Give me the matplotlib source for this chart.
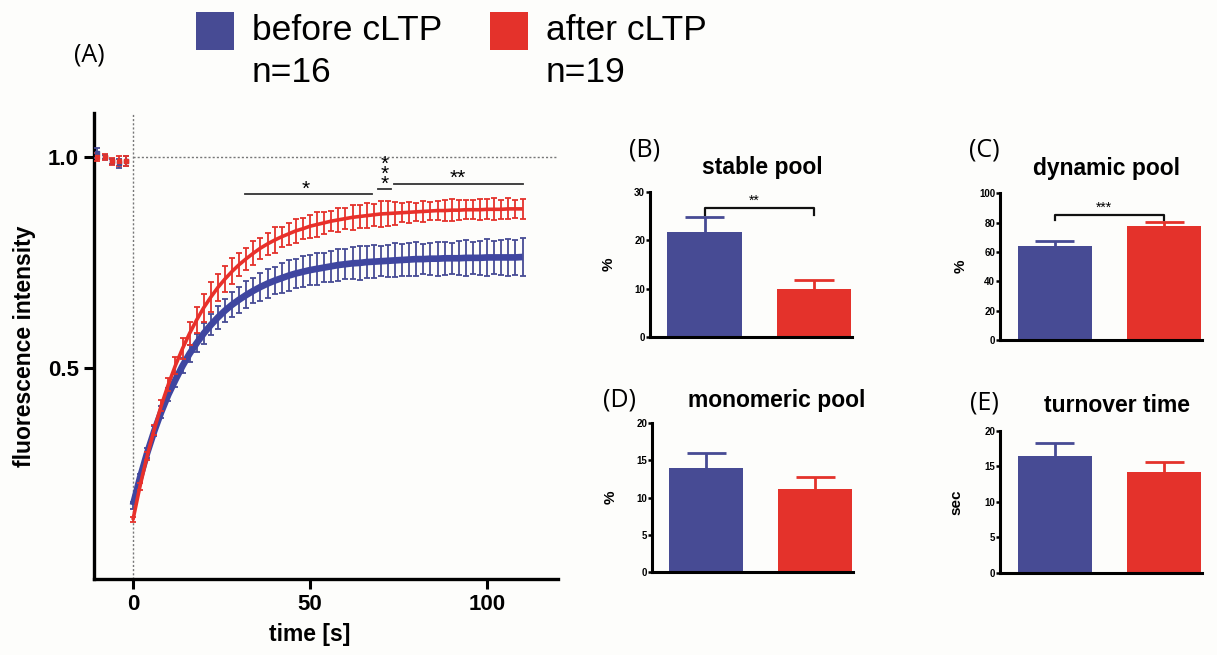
import numpy as np
import matplotlib
matplotlib.use("Agg")
import matplotlib.pyplot as plt
from matplotlib.patches import Rectangle

plt.rcParams['font.family'] = ['Liberation Sans', 'DejaVu Sans']

BLUE = '#474B94'
RED = '#E4322B'

# FRAP recovery, sampled every 2 s
t_pre = [-10, -8, -6, -4, -2]
t_post = np.arange(0, 112, 2)

before_pre = [1.01, 1.00, 0.99, 0.985, 0.99]
before_pre_err = [0.012, 0.005, 0.006, 0.010, 0.012]
after_pre = [1.00, 1.00, 0.99, 0.99, 0.99]
after_pre_err = [0.010, 0.006, 0.008, 0.012, 0.012]

before_mean = [0.175, 0.240, 0.298, 0.350, 0.396, 0.437, 0.472, 0.505, 0.534, 0.559,
               0.582, 0.602, 0.620, 0.636, 0.650, 0.662, 0.673, 0.683, 0.692, 0.700,
               0.707, 0.713, 0.719, 0.724, 0.728, 0.732, 0.735, 0.738, 0.741, 0.744,
               0.746, 0.748, 0.749, 0.751, 0.752, 0.753, 0.754, 0.755, 0.756, 0.757,
               0.758, 0.758, 0.759, 0.759, 0.760, 0.760, 0.760, 0.761, 0.761, 0.761,
               0.762, 0.762, 0.762, 0.762, 0.762, 0.763]
before_err = [0.008, 0.010, 0.012, 0.012, 0.014, 0.015,
              0.016, 0.018, 0.020, 0.022, 0.024, 0.025, 0.027, 0.028, 0.030, 0.031,
              0.032, 0.030, 0.033, 0.034, 0.032, 0.035, 0.036, 0.034, 0.037, 0.036,
              0.038, 0.035, 0.037, 0.039, 0.036, 0.038, 0.040, 0.037, 0.039, 0.036,
              0.038, 0.040, 0.037, 0.039, 0.041, 0.036, 0.038, 0.040, 0.039, 0.037,
              0.040, 0.042, 0.038, 0.041, 0.043, 0.039, 0.042, 0.044, 0.041, 0.045]

after_mean = [0.140, 0.220, 0.291, 0.354, 0.411, 0.461, 0.506, 0.546, 0.582, 0.614,
              0.643, 0.668, 0.691, 0.711, 0.729, 0.745, 0.759, 0.772, 0.784, 0.794,
              0.803, 0.811, 0.818, 0.825, 0.830, 0.836, 0.840, 0.844, 0.848, 0.851,
              0.854, 0.857, 0.859, 0.861, 0.863, 0.865, 0.866, 0.867, 0.868, 0.869,
              0.870, 0.871, 0.872, 0.873, 0.873, 0.874, 0.874, 0.875, 0.875, 0.875,
              0.876, 0.876, 0.876, 0.877, 0.877, 0.877]
after_err = [0.006, 0.008, 0.010, 0.012, 0.014, 0.016,
             0.020, 0.024, 0.027, 0.030, 0.033, 0.035, 0.032, 0.030, 0.031, 0.028,
             0.026, 0.029, 0.025, 0.027, 0.030, 0.024, 0.026, 0.028, 0.025, 0.027,
             0.030, 0.026, 0.024, 0.028, 0.025, 0.029, 0.027, 0.030, 0.026, 0.031,
             0.029, 0.027, 0.023, 0.025, 0.022, 0.024, 0.021, 0.023, 0.025, 0.026,
             0.024, 0.022, 0.023, 0.025, 0.024, 0.026, 0.023, 0.025, 0.022, 0.024]

# summary bars: [before, after]
stable_pool = [21.8, 10.0]
stable_pool_err = [3.1, 1.7]
dynamic_pool = [63.8, 77.6]
dynamic_pool_err = [3.6, 2.9]
monomeric_pool = [13.9, 11.1]
monomeric_pool_err = [2.1, 1.7]
turnover_time = [16.4, 14.2]
turnover_time_err = [1.9, 1.4]

fig = plt.figure(figsize=(12.17, 6.55), dpi=100)
fig.patch.set_facecolor('#FDFDFB')

# ---- (A) recovery curves ----
ax = fig.add_axes([0.0772, 0.116, 0.3813, 0.712])
ax.set_facecolor('none')
ax.plot([0, 120], [1, 1], ls=(0, (1.5, 1.5)), color='#777777', lw=1.0, zorder=1)
ax.plot([0, 0], [0, 1.105], ls=(0, (1.5, 1.5)), color='#777777', lw=1.0, zorder=1)

for tp, yp, ep, col in [(t_pre, before_pre, before_pre_err, BLUE),
                        (t_pre, after_pre, after_pre_err, RED)]:
    ax.errorbar(tp, yp, yerr=ep, fmt='s', ms=3, color=col, ecolor=col,
                elinewidth=1.3, capsize=2.2, capthick=1.3, zorder=3)

ax.errorbar(t_post, before_mean, yerr=before_err, fmt='none', ecolor=BLUE,
            elinewidth=1.3, capsize=2.2, capthick=1.3, zorder=2)
ax.plot(t_post, before_mean, color='#3F46A0', lw=4.8, solid_capstyle='butt', zorder=3)
ax.errorbar(t_post, after_mean, yerr=after_err, fmt='none', ecolor=RED,
            elinewidth=1.3, capsize=2.2, capthick=1.3, zorder=4)
ax.plot(t_post, after_mean, color='#E8302A', lw=2.6, solid_capstyle='butt', zorder=5)

# significance markers
ax.plot([31.6, 67.4], [0.913, 0.913], color='#333333', lw=1.3)
ax.text(48.9, 0.902, '*', ha='center', va='bottom', fontsize=15)
ax.plot([69.1, 72.9], [0.925, 0.925], color='#333333', lw=1.3)
ax.text(71.0, 0.913, '*\n*\n*', ha='center', va='bottom', fontsize=15,
        linespacing=0.4)
ax.plot([73.8, 110.2], [0.937, 0.937], color='#333333', lw=1.3)
ax.text(91.8, 0.926, '**', ha='center', va='bottom', fontsize=15)

ax.set_xlim(-11, 120)
ax.set_ylim(0, 1.105)
ax.set_xticks([0, 50, 100])
ax.set_yticks([0.5, 1.0])
ax.set_yticklabels(['0.5', '1.0'])
for s in ['top', 'right']:
    ax.spines[s].set_visible(False)
for s in ['left', 'bottom']:
    ax.spines[s].set_linewidth(2.4)
ax.tick_params(length=7, width=2.2, labelsize=16, pad=4)
for lab in ax.get_xticklabels() + ax.get_yticklabels():
    lab.set_fontweight('bold')
ax.set_xlabel('time [s]', fontsize=16.5, fontweight='bold')
ax.xaxis.set_label_coords(0.465, -0.095)
ax.set_ylabel('fluorescence intensity', fontsize=16.5, fontweight='bold')
ax.yaxis.set_label_coords(-0.125, 0.5)


# ---- (B)-(E) bar panels ----
def bar_panel(rect, vals, errs, ymax, step, ylabel, lab_x):
    bx = fig.add_axes(rect)
    bx.set_facecolor('none')
    pos = [0, 1]
    for p, v, e, c in zip(pos, vals, errs, [BLUE, RED]):
        bx.bar(p, v, width=0.68, color=c, zorder=2)
        # upper error bar only
        bx.vlines(p, v, v + e, color=c, lw=2.0, zorder=3)
        bx.hlines(v + e, p - 0.18, p + 0.18, color=c, lw=2.0, zorder=3)
    bx.set_xlim(-0.5, 1.345)
    bx.set_ylim(0, ymax)
    bx.set_yticks(np.arange(0, ymax + 1, step))
    bx.set_xticks([])
    for s in ['top', 'right']:
        bx.spines[s].set_visible(False)
    for s in ['left', 'bottom']:
        bx.spines[s].set_linewidth(2.2)
    bx.tick_params(axis='y', length=3, width=1.8, labelsize=7, pad=0.5)
    for lab in bx.get_yticklabels():
        lab.set_fontweight('bold')
    bx.set_ylabel(ylabel, fontsize=11, fontweight='bold')
    bx.yaxis.set_label_coords(lab_x, 0.5)
    return bx


bB = bar_panel([0.534, 0.4855, 0.166, 0.2214], stable_pool, stable_pool_err, 30, 10, '%', -0.17)
bB.plot([0, 0, 1, 1], [25.3, 26.6, 26.6, 25.3], color='#111111', lw=1.6, zorder=4)
bB.text(0.45, 26.7, '**', ha='center', va='bottom', fontsize=10)

bC = bar_panel([0.8217, 0.481, 0.166, 0.224], dynamic_pool, dynamic_pool_err, 100, 20, '%', -0.16)
bC.plot([0, 0, 1, 1], [81.8, 85.4, 85.4, 81.8], color='#111111', lw=1.6, zorder=4)
bC.text(0.45, 85.6, '***', ha='center', va='bottom', fontsize=10)

bar_panel([0.5357, 0.1267, 0.165, 0.2275], monomeric_pool, monomeric_pool_err, 20, 5, '%', -0.17)
bar_panel([0.8217, 0.1253, 0.166, 0.2168], turnover_time, turnover_time_err, 20, 5, 'sec', -0.18)

# titles and panel letters
titles = [('stable pool', 0.626, 0.745), ('dynamic pool', 0.909, 0.743),
          ('monomeric pool', 0.638, 0.388), ('turnover time', 0.918, 0.381)]
for txt, x, y in titles:
    fig.text(x, y, txt, ha='center', va='center', fontsize=16.5, fontweight='bold')

letters = [('(A)', 0.073, 0.916), ('(B)', 0.530, 0.771), ('(C)', 0.809, 0.771),
           ('(D)', 0.509, 0.389), ('(E)', 0.809, 0.385)]
for txt, x, y in letters:
    fig.text(x, y, txt, ha='center', va='center', fontsize=18, family='Open Sans')

# legend
for x0, col, name, n in [(0.161, BLUE, 'before cLTP', 'n=16'),
                         (0.4026, RED, 'after cLTP', 'n=19')]:
    fig.add_artist(Rectangle((x0, 0.9237), 0.0312, 0.058, transform=fig.transFigure,
                             facecolor=col, edgecolor='none'))
    fig.text(x0 + 0.046, 0.953, name, ha='left', va='center', fontsize=25.5)
    fig.text(x0 + 0.046, 0.889, n, ha='left', va='center', fontsize=25.5)

fig.savefig('out.png', dpi=100, facecolor=fig.get_facecolor())
